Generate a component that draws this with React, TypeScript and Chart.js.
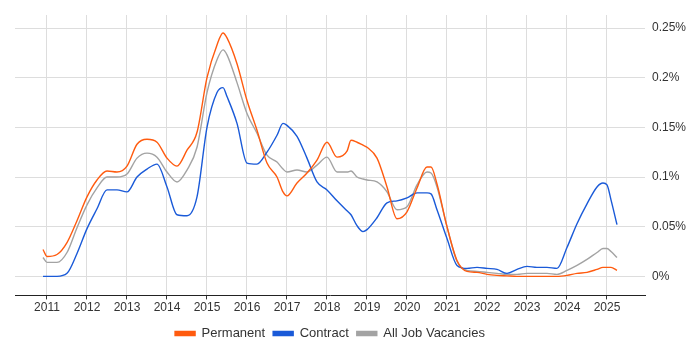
import React, { useEffect, useRef } from "react";
import { Chart, registerables } from "chart.js";

Chart.register(...registerables);

const times = [2010.9, 2011, 2011.25, 2011.5, 2011.75, 2012, 2012.25, 2012.5, 2012.75, 2013, 2013.25, 2013.5, 2013.75, 2014, 2014.25, 2014.5, 2014.75, 2015, 2015.25, 2015.4, 2015.5, 2015.75, 2016, 2016.25, 2016.5, 2016.75, 2016.9, 2017, 2017.25, 2017.5, 2017.75, 2018, 2018.25, 2018.5, 2018.6, 2018.75, 2018.9, 2019, 2019.25, 2019.5, 2019.75, 2020, 2020.25, 2020.5, 2020.6, 2020.75, 2021, 2021.25, 2021.5, 2021.75, 2022, 2022.25, 2022.5, 2022.75, 2023, 2023.25, 2023.5, 2023.75, 2024, 2024.25, 2024.5, 2024.75, 2024.9, 2025, 2025.1, 2025.25];

const permanent = [0.027, 0.020, 0.022, 0.034, 0.056, 0.080, 0.097, 0.106, 0.105, 0.111, 0.133, 0.138, 0.135, 0.119, 0.111, 0.127, 0.145, 0.200, 0.233, 0.245, 0.240, 0.214, 0.177, 0.147, 0.114, 0.100, 0.085, 0.081, 0.094, 0.104, 0.117, 0.135, 0.120, 0.126, 0.137, 0.135, 0.132, 0.130, 0.119, 0.090, 0.058, 0.065, 0.089, 0.110, 0.110, 0.093, 0.050, 0.016, 0.005, 0.004, 0.002, 0.001, 0.0005, 0.0, 0.0, 0.0, 0.0, 0.0, 0.001, 0.003, 0.004, 0.007, 0.009, 0.009, 0.009, 0.006];

const contract = [0, 0, 0, 0.003, 0.023, 0.048, 0.068, 0.087, 0.087, 0.085, 0.100, 0.108, 0.113, 0.090, 0.062, 0.061, 0.080, 0.150, 0.185, 0.190, 0.181, 0.154, 0.114, 0.113, 0.125, 0.142, 0.154, 0.152, 0.141, 0.119, 0.095, 0.087, 0.076, 0.066, 0.062, 0.051, 0.045, 0.047, 0.059, 0.074, 0.076, 0.079, 0.084, 0.084, 0.083, 0.067, 0.038, 0.011, 0.008, 0.009, 0.008, 0.007, 0.003, 0.007, 0.010, 0.009, 0.009, 0.008, 0.029, 0.053, 0.073, 0.090, 0.094, 0.092, 0.077, 0.052];

const allJobs = [0.019, 0.014, 0.014, 0.024, 0.049, 0.072, 0.089, 0.100, 0.100, 0.103, 0.119, 0.124, 0.120, 0.105, 0.095, 0.107, 0.130, 0.185, 0.218, 0.228, 0.223, 0.195, 0.164, 0.144, 0.122, 0.115, 0.108, 0.105, 0.107, 0.105, 0.112, 0.120, 0.105, 0.105, 0.106, 0.100, 0.098, 0.097, 0.095, 0.085, 0.067, 0.070, 0.092, 0.105, 0.104, 0.090, 0.050, 0.015, 0.006, 0.005, 0.004, 0.003, 0.002, 0.002, 0.003, 0.003, 0.003, 0.002, 0.006, 0.011, 0.017, 0.024, 0.028, 0.028, 0.025, 0.019];

const yearTicks = [2011, 2012, 2013, 2014, 2015, 2016, 2017, 2018, 2019, 2020, 2021, 2022, 2023, 2024, 2025];
const percentTicks = [0, 0.05, 0.1, 0.15, 0.2, 0.25];

const seriesNames = ["Permanent", "Contract", "All Job Vacancies"];
const seriesColors = ["#ff5b0f", "#1a5ad8", "#a3a3a3"];

const toPoints = (vals: number[]) => vals.map((v, i) => ({ x: times[i], y: v }));

export default function App() {
  const ref = useRef<HTMLCanvasElement | null>(null);
  useEffect(() => {
    if (!ref.current) return;
    const font = { family: "'Liberation Sans', Arial, sans-serif", size: 12 };
    const seriesData = [permanent, contract, allJobs];
    const chart = new Chart(ref.current, {
      type: "line",
      data: {
        datasets: seriesData.map((vals, i) => ({
          label: seriesNames[i],
          data: toPoints(vals),
          borderColor: seriesColors[i],
          backgroundColor: seriesColors[i],
          borderWidth: 1.4,
          pointRadius: 0,
          cubicInterpolationMode: "monotone" as const,
          fill: false,
        })),
      },
      options: {
        responsive: false,
        animation: false,
        layout: { padding: { left: 15, top: 15, right: 0, bottom: 0 } },
        plugins: {
          tooltip: { enabled: false },
          legend: {
            position: "bottom",
            fullSize: false,
            labels: {
              font: { family: font.family, size: 13 },
              color: "#333",
              boxWidth: 20,
              boxHeight: 4,
              padding: 8,
            },
          },
        },
        scales: {
          x: {
            type: "linear",
            min: 2010.2,
            max: 2025.95,
            afterBuildTicks: (s: any) => {
              s.ticks = yearTicks.map((v) => ({ value: v }));
            },
            afterFit: (s: any) => {
              s.height = 23.6;
            },
            ticks: {
              font,
              color: "#333",
              padding: 1,
              maxRotation: 0,
              callback: (v: any) => String(v),
            },
            grid: {
              color: "#dddddd",
              tickColor: "#333",
              tickLength: 4,
            },
            border: { display: true, color: "#222", width: 1 },
          },
          y: {
            position: "right",
            min: -0.0192,
            max: 0.2631,
            afterBuildTicks: (s: any) => {
              s.ticks = percentTicks.map((v) => ({ value: v }));
            },
            afterFit: (s: any) => {
              s.width = 55;
            },
            ticks: {
              font,
              color: "#333",
              padding: 7,
              callback: (v: any) => parseFloat(Number(v).toFixed(2)) + "%",
            },
            grid: { color: "#dddddd", drawTicks: false },
            border: { display: false },
          },
        },
      },
    });
    return () => chart.destroy();
  }, []);
  return (
    <div style={{ position: "fixed", left: 0, top: 0, width: 700, height: 350 }}>
      <canvas ref={ref} width={700} height={350} />
    </div>
  );
}
